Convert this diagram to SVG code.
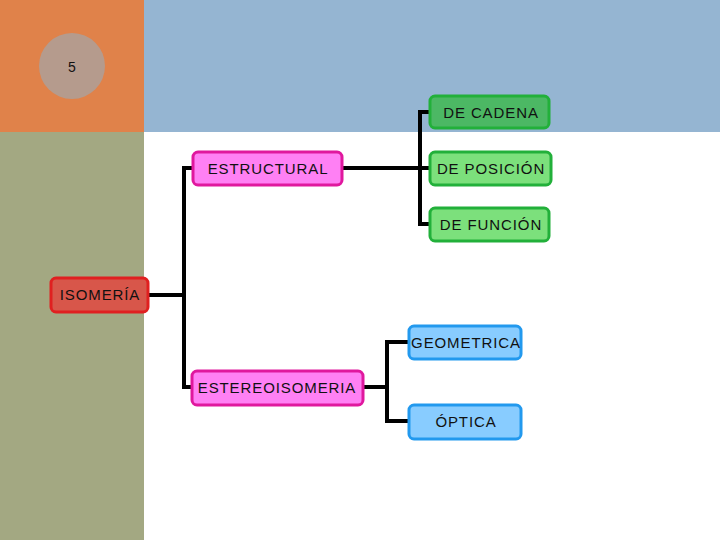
<svg xmlns="http://www.w3.org/2000/svg" width="720" height="540" viewBox="0 0 720 540">
<style>
text{font-family:"Liberation Sans",Arial,sans-serif;font-size:15px;fill:#111;text-anchor:middle;letter-spacing:0.9px}
.n rect{stroke-width:3}
.g rect{stroke:#22B03A}
.p rect{fill:#FF80F4;stroke:#E0189E}
.b rect{fill:#88CCFF;stroke:#2299EE}
#connectors path{fill:none;stroke:#000;stroke-width:4}
</style>
<rect x="0" y="0" width="720" height="540" fill="#fff"/>
<rect x="0" y="0" width="144" height="132" fill="#E0824A"/>
<rect x="144" y="0" width="576" height="132" fill="#95B5D2"/>
<rect x="0" y="132" width="144" height="408" fill="#A3A882"/>
<circle cx="72" cy="66" r="33" fill="#B59B8D"/>
<text x="72" y="72" style="font-size:14px;letter-spacing:0">5</text>
<g id="connectors">
<path d="M148 295H184M184 166V389M182 168H193M182 387H192"/>
<path d="M342 168H430M420 110V226M418 112H430M418 224H430"/>
<path d="M363 387H387M387 340V423M385 342H409M385 421H409"/>
</g>
<g id="isomeria" class="n"><rect x="51" y="278" width="97" height="34" rx="5" fill="#D8564A" stroke="#E02020"/><text x="100" y="300">ISOMERÍA</text></g>
<g id="estructural" class="n p"><rect x="193" y="152" width="149" height="33" rx="5"/><text x="268" y="174">ESTRUCTURAL</text></g>
<g id="estereoisomeria" class="n p"><rect x="192" y="371" width="171" height="34" rx="5"/><text x="277" y="393">ESTEREOISOMERIA</text></g>
<g id="cadena" class="n g"><rect x="430" y="96" width="119" height="32" rx="5" fill="#4CB864"/><text x="491" y="118">DE CADENA</text></g>
<g id="posicion" class="n g"><rect x="430" y="152" width="121" height="33" rx="5" fill="#7CE07C"/><text x="491" y="174">DE POSICIÓN</text></g>
<g id="funcion" class="n g"><rect x="430" y="208" width="119" height="33" rx="5" fill="#7CE07C"/><text x="491" y="230">DE FUNCIÓN</text></g>
<g id="geometrica" class="n b"><rect x="409" y="326" width="112" height="33" rx="5"/><text x="466" y="348">GEOMETRICA</text></g>
<g id="optica" class="n b"><rect x="409" y="405" width="112" height="34" rx="5"/><text x="466" y="427">ÓPTICA</text></g>
</svg>
